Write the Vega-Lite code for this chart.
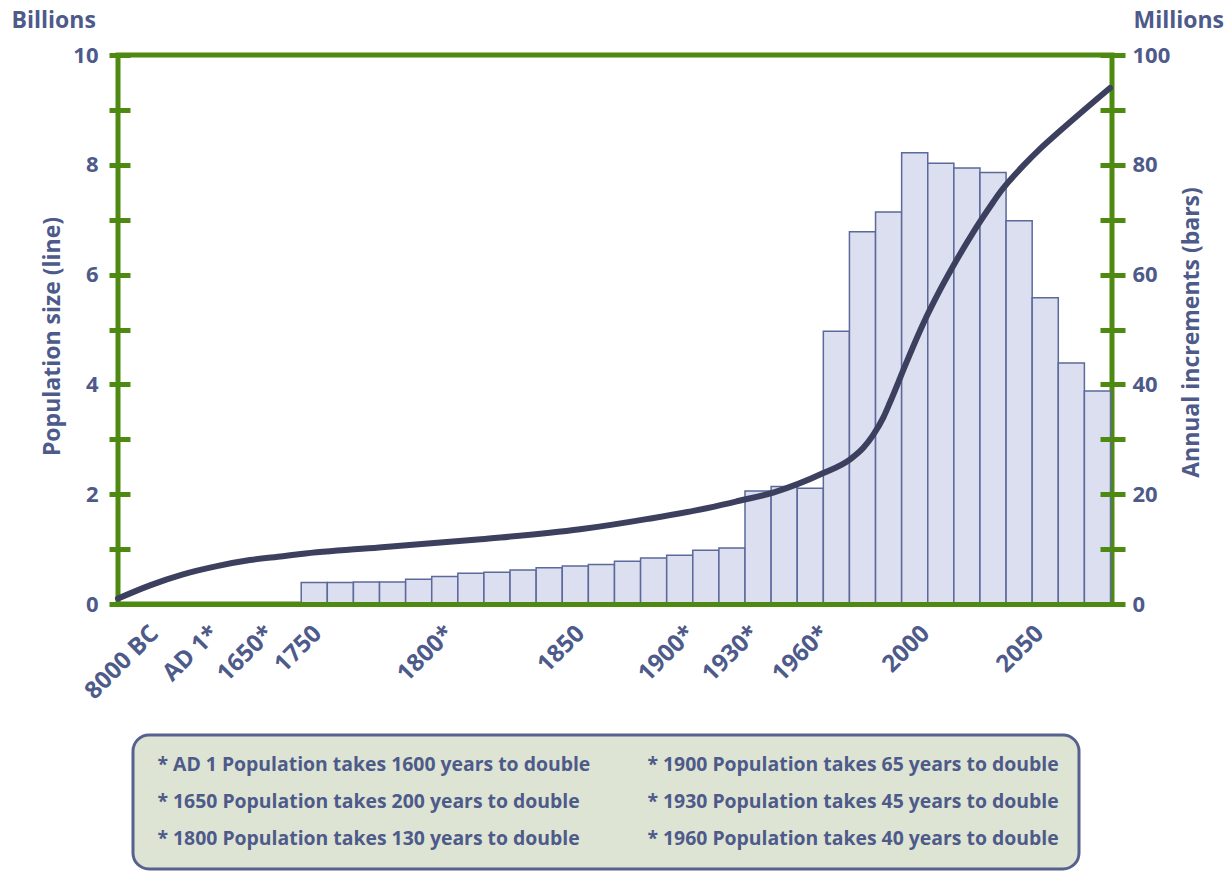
{
  "$schema": "https://vega.github.io/schema/vega-lite/v6.json",
  "width": 994,
  "height": 549,
  "autosize": {"type": "none"},
  "padding": {"left": 118, "top": 55, "right": 119, "bottom": 267},
  "background": "#ffffff",
  "config": {
    "view": {"stroke": "#4e8a12", "strokeWidth": 5},
    "font": "Open Sans",
    "axis": {
      "labelFont": "Open Sans",
      "titleFont": "Open Sans",
      "labelColor": "#4d5a8a",
      "titleColor": "#4d5a8a",
      "labelFontWeight": "bold",
      "titleFontWeight": "bold",
      "grid": false
    },
    "legend": {"strokeWidth": 3}
  },
  "layer": [
    {
      "data": {
        "values": [
          {"year": 1750, "increment": 3.9},
          {"year": 1760, "increment": 3.9},
          {"year": 1770, "increment": 4.0},
          {"year": 1780, "increment": 4.0},
          {"year": 1790, "increment": 4.5},
          {"year": 1800, "increment": 5.0},
          {"year": 1810, "increment": 5.6},
          {"year": 1820, "increment": 5.8},
          {"year": 1830, "increment": 6.2},
          {"year": 1840, "increment": 6.6},
          {"year": 1850, "increment": 6.9},
          {"year": 1860, "increment": 7.2},
          {"year": 1870, "increment": 7.8},
          {"year": 1880, "increment": 8.4},
          {"year": 1890, "increment": 8.9},
          {"year": 1900, "increment": 9.8},
          {"year": 1910, "increment": 10.2},
          {"year": 1920, "increment": 20.6},
          {"year": 1930, "increment": 21.4},
          {"year": 1940, "increment": 21.1},
          {"year": 1950, "increment": 49.7},
          {"year": 1960, "increment": 67.8},
          {"year": 1970, "increment": 71.4},
          {"year": 1980, "increment": 82.2},
          {"year": 1990, "increment": 80.3},
          {"year": 2000, "increment": 79.4},
          {"year": 2010, "increment": 78.6},
          {"year": 2020, "increment": 69.8},
          {"year": 2030, "increment": 55.8},
          {"year": 2040, "increment": 43.9},
          {"year": 2050, "increment": 38.8}
        ]
      },
      "mark": {"type": "bar", "fill": "#dcdfef", "stroke": "#5b699b", "strokeWidth": 1.5, "binSpacing": 0},
      "encoding": {
        "x": {
          "field": "year",
          "type": "quantitative",
          "bin": {"anchor": 1745, "step": 10, "extent": [1745, 2055], "nice": false},
          "scale": {"domain": [-8000, 1, 1650, 1745, 2055], "range": [0, 86, 138, 182.7, 992], "nice": false, "zero": false},
          "axis": {
            "orient": "top", "labels": false, "ticks": false, "domain": false, "grid": false,
            "title": "Millions", "titleX": 1015, "titleY": -28, "titleAlign": "left",
            "titleBaseline": "alphabetic", "titleAngle": 0, "titleFontSize": 23
          }
        },
        "y": {
          "field": "increment",
          "type": "quantitative",
          "scale": {"domain": [0, 100], "nice": false},
          "axis": {
            "orient": "right",
            "values": [0, 10, 20, 30, 40, 50, 60, 70, 80, 90, 100],
            "labelExpr": "datum.value % 20 === 0 ? datum.label : ''",
            "offset": -12, "tickSize": 25, "tickWidth": 5, "tickColor": "#4e8a12",
            "domain": false, "labelPadding": 7, "labelFontSize": 22, "zindex": 1,
            "title": "Annual increments (bars)", "titleAngle": 270, "titleX": 91, "titleY": 277,
            "titleAlign": "center", "titleBaseline": "middle", "titleFontSize": 23
          }
        }
      }
    },
    {
      "data": {
        "values": [
          {"year": -8000, "population": 0.1},
          {"year": -5023, "population": 0.34},
          {"year": -1953, "population": 0.54},
          {"year": 413, "population": 0.69},
          {"year": 1460, "population": 0.8},
          {"year": 1707, "population": 0.87},
          {"year": 1745, "population": 0.91},
          {"year": 1775, "population": 1.03},
          {"year": 1814, "population": 1.18},
          {"year": 1852, "population": 1.36},
          {"year": 1878, "population": 1.55},
          {"year": 1903, "population": 1.77},
          {"year": 1913, "population": 1.88},
          {"year": 1926, "population": 2.03},
          {"year": 1945, "population": 2.38},
          {"year": 1955.6, "population": 2.64},
          {"year": 1960.6, "population": 2.85},
          {"year": 1964.3, "population": 3.08},
          {"year": 1968.2, "population": 3.4},
          {"year": 1970.7, "population": 3.67},
          {"year": 1977.2, "population": 4.42},
          {"year": 1983.4, "population": 5.1},
          {"year": 1989.9, "population": 5.72},
          {"year": 1996.3, "population": 6.27},
          {"year": 2002.6, "population": 6.77},
          {"year": 2009.1, "population": 7.24},
          {"year": 2012.9, "population": 7.5},
          {"year": 2016.7, "population": 7.72},
          {"year": 2021.7, "population": 7.98},
          {"year": 2028.2, "population": 8.29},
          {"year": 2035.9, "population": 8.62},
          {"year": 2055, "population": 9.4}
        ]
      },
      "mark": {"type": "line", "interpolate": "monotone", "stroke": "#3c405e", "strokeWidth": 6, "strokeCap": "round"},
      "encoding": {
        "x": {
          "field": "year",
          "type": "quantitative",
          "scale": {"domain": [-8000, 1, 1650, 1745, 2055], "range": [0, 86, 138, 182.7, 992], "nice": false, "zero": false},
          "axis": {
            "orient": "bottom", "labels": false, "ticks": false, "domain": true,
            "domainColor": "#4e8a12", "domainWidth": 5, "zindex": 1, "grid": false,
            "title": "Billions", "titleX": -107, "titleY": -577, "titleAlign": "left",
            "titleBaseline": "alphabetic", "titleAngle": 0, "titleFontSize": 23
          }
        },
        "y": {
          "field": "population",
          "type": "quantitative",
          "scale": {"domain": [0, 10], "nice": false},
          "axis": {
            "orient": "left",
            "values": [0, 1, 2, 3, 4, 5, 6, 7, 8, 9, 10],
            "labelExpr": "datum.value % 2 === 0 ? datum.label : ''",
            "offset": -12, "tickSize": 21, "tickWidth": 5, "tickColor": "#4e8a12",
            "domain": false, "labelPadding": 11, "labelFontSize": 22, "zindex": 1,
            "title": "Population size (line)", "titleAngle": 270, "titleX": -78, "titleY": 281,
            "titleAlign": "center", "titleBaseline": "middle", "titleFontSize": 23
          }
        }
      }
    },
    {
      "data": {
        "values": [
          {"year": -8000, "label": "8000 BC"},
          {"year": 1, "label": "AD 1*"},
          {"year": 1650, "label": "1650*"},
          {"year": 1750, "label": "1750"},
          {"year": 1800, "label": "1800*"},
          {"year": 1850, "label": "1850"},
          {"year": 1900, "label": "1900*"},
          {"year": 1930, "label": "1930*"},
          {"year": 1960, "label": "1960*"},
          {"year": 2000, "label": "2000"},
          {"year": 2050, "label": "2050"}
        ]
      },
      "mark": {"type": "point", "opacity": 0},
      "encoding": {
        "x": {
          "field": "year",
          "type": "quantitative",
          "scale": {
            "domain": [-8000, 1, 1650, 1750, 1800, 1850, 1900, 1930, 1960, 2000, 2050],
            "range": [28, 88, 143, 191, 323, 454, 564, 628, 698, 799, 913],
            "nice": false, "zero": false
          },
          "axis": {
            "orient": "bottom",
            "values": [-8000, 1, 1650, 1750, 1800, 1850, 1900, 1930, 1960, 2000, 2050],
            "format": "d",
            "labelExpr": "datum.value === -8000 ? '8000 BC' : datum.value === 1 ? 'AD 1*' : indexof([1650, 1800, 1900, 1930, 1960], datum.value) >= 0 ? datum.label + '*' : datum.label",
            "labelAngle": -45, "labelFontSize": 24, "labelPadding": 17,
            "ticks": false, "tickSize": 0, "domain": false, "grid": false, "title": null,
            "labelOverlap": false, "labelFlush": false, "labelBound": false
          }
        }
      }
    },
    {
      "data": {
        "values": [
          {"note": "* AD 1 Population takes 1600 years to double"},
          {"note": "* 1650 Population takes 200 years to double"},
          {"note": "* 1800 Population takes 130 years to double"},
          {"note": "* 1900 Population takes 65 years to double"},
          {"note": "* 1930 Population takes 45 years to double"},
          {"note": "* 1960 Population takes 40 years to double"}
        ]
      },
      "mark": {"type": "point", "opacity": 0},
      "encoding": {
        "shape": {
          "field": "note",
          "type": "nominal",
          "sort": [
            "* AD 1 Population takes 1600 years to double",
            "* 1650 Population takes 200 years to double",
            "* 1800 Population takes 130 years to double",
            "* 1900 Population takes 65 years to double",
            "* 1930 Population takes 45 years to double",
            "* 1960 Population takes 40 years to double"
          ],
          "legend": {
            "orient": "none", "legendX": 15, "legendY": 680, "columns": 2, "title": null,
            "fillColor": "#dee4d3", "strokeColor": "#56618e", "cornerRadius": 16,
            "padding": 20, "rowPadding": 16, "columnPadding": 52,
            "symbolSize": 0, "symbolOpacity": 0, "symbolStrokeWidth": 0, "labelOffset": -15,
            "labelFont": "Open Sans", "labelFontSize": 19.4, "labelFontWeight": "bold",
            "labelColor": "#4d5a8a", "labelLimit": 700,
            "encode": {"legend": {"update": {"strokeWidth": {"value": 3}, "stroke": {"value": "#56618e"}}}}
          }
        }
      }
    }
  ],
  "resolve": {"scale": {"x": "independent", "y": "independent"}}
}
